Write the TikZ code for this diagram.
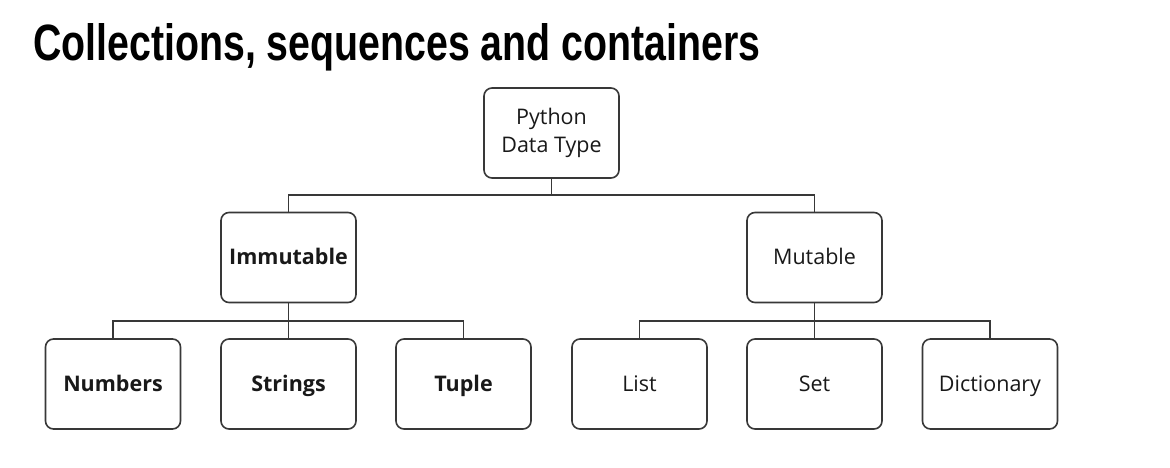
\documentclass[tikz,border=0pt]{standalone}
\usepackage{fontspec}
\setmainfont{Open Sans}
\newfontfamily\titlefont{Liberation Sans}
\begin{document}
\begin{tikzpicture}[x=1pt,y=-1pt,
  box/.style={draw=black!78, line width=1.6pt, rounded corners=8pt,
    minimum width=135pt, minimum height=90pt, inner sep=0pt,
    align=center, font=\fontsize{21.5}{28.5}\selectfont, text=black!90},
  one/.style={box, text height=18pt, text depth=4pt},
  bbox/.style={one, font=\fontsize{21.5}{28.5}\selectfont\bfseries},
  conn/.style={draw=black!78, line width=1.4pt}]
\useasboundingbox[fill=white] (0,0) rectangle (1170,467);
\node[anchor=base west, inner sep=0pt] (title) at (33,60)
  {\resizebox{727pt}{37pt}{\titlefont\bfseries Collections, sequences and containers}};
\coordinate (bus1) at (0,195);
\coordinate (bus2) at (0,321);
\node[box]  (py)   at (551.5,133) {Python\\Data Type};
\node[bbox] (imm)  at (288.5,257.5) {Immutable};
\node[one]  (mut)  at (814.5,257.5) {Mutable};
\node[bbox] (num)  at (113,384) {Numbers};
\node[bbox] (str)  at (288.5,384) {Strings};
\node[bbox] (tup)  at (463.5,384) {Tuple};
\node[one]  (lst)  at (639.5,384) {List};
\node[one]  (set)  at (814.5,384) {Set};
\node[one]  (dict) at (990,384) {Dictionary};
\draw[conn] (py.south) -- (py.south |- bus1);
\draw[conn] (imm.north) -- (imm.north |- bus1) -- (mut.north |- bus1) -- (mut.north);
\draw[conn] (imm.south) -- (str.north);
\draw[conn] (num.north) -- (num.north |- bus2) -- (tup.north |- bus2) -- (tup.north);
\draw[conn] (mut.south) -- (set.north);
\draw[conn] (lst.north) -- (lst.north |- bus2) -- (dict.north |- bus2) -- (dict.north);
\end{tikzpicture}
\end{document}
